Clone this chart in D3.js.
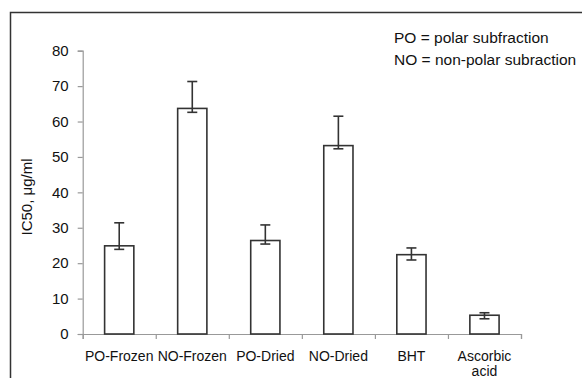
<!DOCTYPE html>
<html>
<head>
<meta charset="utf-8">
<script src="https://cdn.jsdelivr.net/npm/d3@7"></script>
<style>
  body { margin: 0; background: #fff; }
  svg { display: block; font-family: "Liberation Sans", Arial, sans-serif; }
</style>
</head>
<body>
<div id="chart"></div>
<script>
// data
const categories = ["PO-Frozen", "NO-Frozen", "PO-Dried", "NO-Dried", "BHT", "Ascorbic acid"];
const ic50 = [24.9, 63.7, 26.4, 53.2, 22.4, 5.3];
const errUp = [31.4, 71.3, 30.8, 61.5, 24.3, 6.0];
const errDown = [23.9, 62.6, 25.4, 52.3, 20.9, 4.3];
const yTicks = [0, 10, 20, 30, 40, 50, 60, 70, 80];
const notes = ["PO = polar subfraction", "NO = non-polar subraction"];

const W = 582, H = 378;
const margin = { top: 50.7, right: 61, bottom: 44, left: 82.7 };
const width = W - margin.left - margin.right;
const height = H - margin.top - margin.bottom;
const fontSize = "15px";

const svg = d3.select("#chart").append("svg")
	.attr("width", W)
	.attr("height", H);

// outer frame (runs off the right and bottom edges)
svg.append("rect")
	.attr("x", 10.5)
	.attr("y", 12.5)
	.attr("width", W + 20)
	.attr("height", H + 20)
	.attr("fill", "none")
	.attr("stroke", "#333")
	.attr("stroke-width", 1.5);

const g = svg.append("g")
	.attr("transform", `translate(${margin.left},${margin.top})`);

const x = d3.scaleBand()
	.domain(categories)
	.range([0, width])
	.paddingInner(0.6)
	.paddingOuter(0.3);

const xTick = d3.scaleLinear()
	.domain([0, categories.length])
	.range([0, width]);

const y = d3.scaleLinear()
	.domain([0, 80])
	.range([height, 0]);

// axes
const yAxis = g.append("g")
	.call(d3.axisLeft(y).tickValues(yTicks).tickSize(5).tickPadding(9));
yAxis.select(".domain").attr("stroke", "#999").attr("stroke-width", 1.2);
yAxis.selectAll(".tick line").attr("stroke", "#999").attr("stroke-width", 1.2);
yAxis.selectAll(".tick text")
	.attr("fill", "#111")
	.style("font-size", fontSize)
	.style("font-family", "Liberation Sans, Arial, sans-serif");

const xAxis = g.append("g")
	.attr("transform", `translate(0,${height})`)
	.call(d3.axisBottom(xTick).tickValues(d3.range(categories.length + 1)).tickSize(5).tickFormat(""));
xAxis.select(".domain").attr("stroke", "#999").attr("stroke-width", 1.2);
xAxis.selectAll(".tick line").attr("stroke", "#999").attr("stroke-width", 1.2);

// category labels
categories.forEach(c => {
	const words = c === "Ascorbic acid" ? ["Ascorbic", "acid"] : [c];
	const t = g.append("text")
		.attr("x", x(c) + x.bandwidth() / 2)
		.attr("y", height + 27)
		.attr("text-anchor", "middle")
		.attr("fill", "#111")
		.style("font-size", "14px");
	words.forEach((w, i) => {
		t.append("tspan")
			.attr("x", x(c) + x.bandwidth() / 2)
			.attr("dy", i === 0 ? 0 : 15)
			.text(w);
	});
});

// bars
g.selectAll(".bar")
	.data(categories)
	.enter()
	.append("rect")
		.attr("class", "bar")
		.attr("x", d => x(d))
		.attr("y", (d, i) => y(ic50[i]))
		.attr("width", x.bandwidth())
		.attr("height", (d, i) => height - y(ic50[i]))
		.attr("fill", "#fff")
		.attr("stroke", "#333")
		.attr("stroke-width", 1.6);

// error bars
const cap = 5;
categories.forEach((c, i) => {
	const cx = x(c) + x.bandwidth() / 2;
	const eb = g.append("g").attr("stroke", "#333").attr("stroke-width", 1.6);
	eb.append("line").attr("x1", cx).attr("x2", cx).attr("y1", y(errUp[i])).attr("y2", y(errDown[i]));
	eb.append("line").attr("x1", cx - cap).attr("x2", cx + cap).attr("y1", y(errUp[i])).attr("y2", y(errUp[i]));
	eb.append("line").attr("x1", cx - cap).attr("x2", cx + cap).attr("y1", y(errDown[i])).attr("y2", y(errDown[i]));
});

// y label
svg.append("text")
	.attr("transform", "rotate(-90)")
	.attr("x", -197)
	.attr("y", 32)
	.attr("text-anchor", "middle")
	.attr("fill", "#111")
	.style("font-size", fontSize)
	.text("IC50, μg/ml");

// notes
notes.forEach((n, i) => {
	svg.append("text")
		.attr("x", 394)
		.attr("y", 43 + i * 22)
		.attr("fill", "#111")
		.style("font-size", "15.5px")
		.text(n);
});
</script>
</body>
</html>
